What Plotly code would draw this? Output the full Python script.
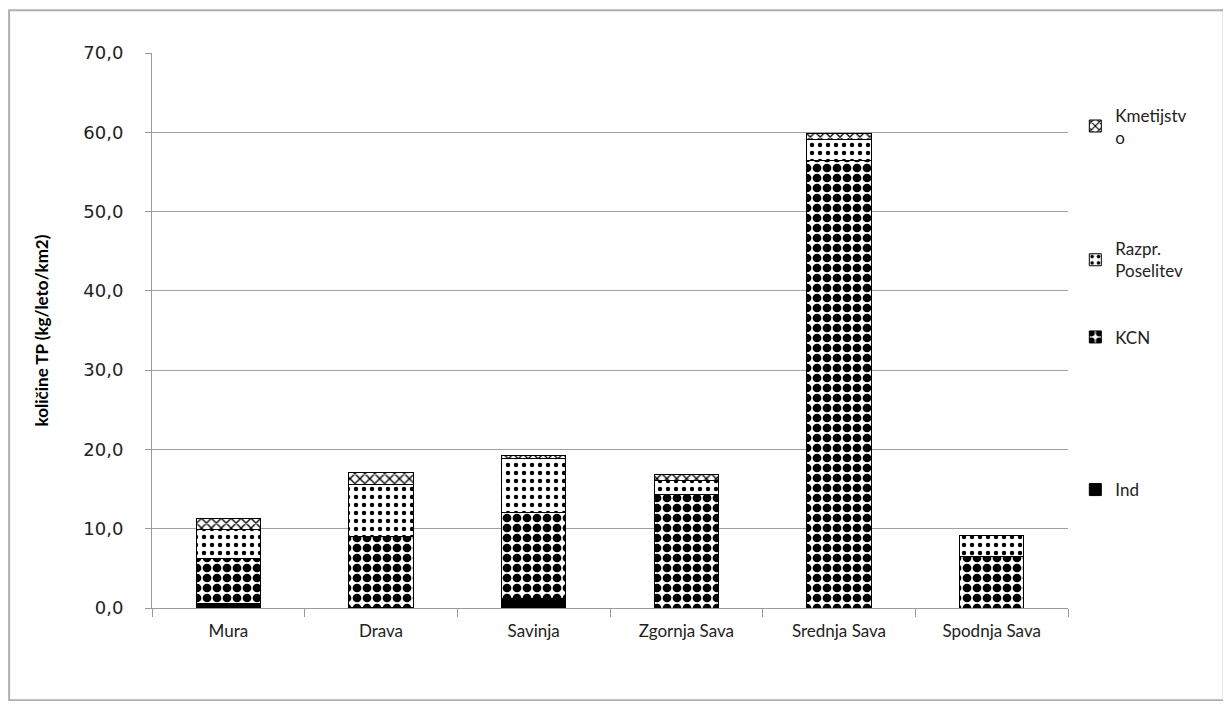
import plotly.graph_objs as go

regije = ['Mura', 'Drava', 'Savinja', 'Zgornja Sava', 'Srednja Sava', 'Spodnja Sava']
ind = [0.6, 0.1, 1.2, 0.0, 0.0, 0.0]
kcn = [5.7, 8.9, 10.9, 14.3, 56.5, 6.5]
razpr = [3.6, 6.6, 6.8, 1.8, 2.6, 2.6]
kmet = [1.4, 1.5, 0.3, 0.8, 0.7, 0.1]
y_ticks = [0, 10, 20, 30, 40, 50, 60, 70]

FONT = 'Lato'

def stackbar(y, name, legend, shape='', size=8, solidity=0.3, fill='white'):
	return go.Bar(
		x=regije,
		y=y,
		name=name,
		legend=legend,
		showlegend=True,
		marker=dict(
			color=fill,
			line=dict(color='black', width=1),
			pattern=dict(shape=shape, fgcolor='black', bgcolor='white',
				fgopacity=1, size=size, solidity=solidity, fillmode='overlay')
		)
	)

fig = go.Figure()
fig.add_trace(stackbar(ind, 'Ind', 'legend4', fill='black'))
fig.add_trace(stackbar(kcn, 'KCN', 'legend3', shape='.', size=10, solidity=0.6))
fig.add_trace(stackbar(razpr, 'Razpr.<br>Poselitev', 'legend2', shape='.', size=8, solidity=0.24))
fig.add_trace(stackbar(kmet, 'Kmetijstv<br>o', 'legend', shape='x', size=7, solidity=0.35))

def leg(y):
	return dict(x=1.008, y=y, xanchor='left', yanchor='top',
		font=dict(family=FONT, size=17, color='#222222'),
		bgcolor='rgba(0,0,0,0)', itemwidth=30)

fig.update_layout(
	barmode='stack',
	bargap=0.58,
	width=1215,
	height=693,
	showlegend=True,
	separators=', ',
	plot_bgcolor='white',
	paper_bgcolor='white',
	margin=dict(l=144, r=155, t=45, b=93),
	font=dict(family=FONT, size=15, color='#222222'),
	legend=leg(0.92),
	legend2=leg(0.679),
	legend3=leg(0.52),
	legend4=leg(0.245),
	xaxis=dict(
		showline=True, linecolor='#999999', linewidth=1,
		ticks='outside', tickson='boundaries', ticklen=8, tickcolor='#999999',
		tickfont=dict(family=FONT, size=17, color='#222222'),
		ticklabelstandoff=8,
		showgrid=False
	),
	yaxis=dict(
		range=[0, 70], tickvals=y_ticks, tickformat='.1f',
		showline=True, linecolor='#999999', linewidth=1,
		ticks='outside', ticklen=6, tickcolor='#999999',
		gridcolor='#a0a0a0', gridwidth=1,
		tickfont=dict(family='DejaVu Sans', size=18, color='#222222'),
		ticklabelstandoff=18,
		title=dict(text='<b>količine TP (kg/leto/km2)</b>', standoff=30,
			font=dict(family=FONT, size=17, color='black'))
	),
	shapes=[dict(type='rect', xref='paper', yref='paper',
		x0=-0.156, x1=1.17, y0=-0.166, y1=1.077,
		line=dict(color='#b0b0b0', width=2))]
)

fig.write_html('out.html')
